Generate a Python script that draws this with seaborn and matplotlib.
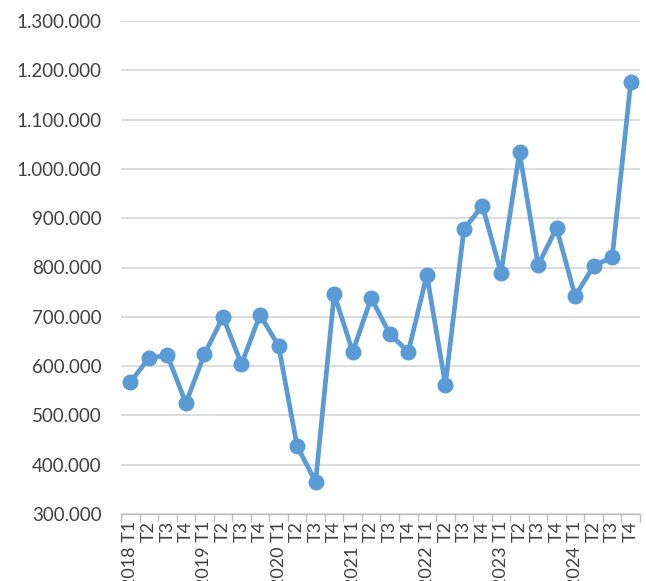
import matplotlib
matplotlib.use("Agg")
from matplotlib import pyplot as plt
from matplotlib.ticker import FuncFormatter, FixedLocator
import numpy as np
import pandas as pd
import seaborn as sns

years = [2018, 2019, 2020, 2021, 2022, 2023, 2024]
quarters = ["T1", "T2", "T3", "T4"]
labels = [f"{y} {q}" if q == "T1" else q for y in years for q in quarters]

values = [567000, 616000, 622000, 525000, 624000, 700000, 604000,
          704000, 641000, 438000, 365000, 746000, 629000, 738000,
          665000, 629000, 785000, 562000, 878000, 925000, 789000,
          1034000, 805000, 880000, 742000, 803000, 821000, 1176000]

df = pd.DataFrame({"pos": np.arange(len(values)), "value": values})

sns.set_style("white")
plt.rcParams["font.family"] = ["Lato", "DejaVu Sans"]

fig = plt.figure(figsize=(6.46, 5.81), dpi=100)
ax = fig.add_axes([121 / 646, 67 / 581, 519 / 646, 493 / 581])

blue = "#5B9BD5"
sns.lineplot(data=df, x="pos", y="value", ax=ax, color=blue, linewidth=3.4,
             marker="o", markersize=11.5, markeredgewidth=0, zorder=3)

ax.set_xlim(-0.5, len(values) - 0.5)
ax.set_ylim(300000, 1300000)
ax.set_yticks(np.arange(300000, 1300001, 100000))
ax.yaxis.set_major_formatter(FuncFormatter(lambda v, p: f"{v:,.0f}".replace(",", ".")))
ax.grid(axis="y", color="#D9D9D9", linewidth=1.3, zorder=0)

ax.set_xticks(df["pos"])
ax.set_xticklabels(labels, rotation=90)
ax.xaxis.set_minor_locator(FixedLocator(np.arange(-0.5, len(values), 1)))
ax.tick_params(axis="x", which="major", length=0, pad=5, labelsize=13, labelcolor="#404040")
ax.tick_params(axis="x", which="minor", length=6, width=1, color="#BFBFBF", bottom=True)
ax.tick_params(axis="y", length=0, pad=14, labelsize=13.5, labelcolor="#404040")

for s in ["left", "right", "top"]:
    ax.spines[s].set_visible(False)
ax.spines["bottom"].set_color("#BFBFBF")
ax.spines["bottom"].set_linewidth(1)

ax.set_xlabel("")
ax.set_ylabel("")

fig.savefig("out.png", dpi=100)
